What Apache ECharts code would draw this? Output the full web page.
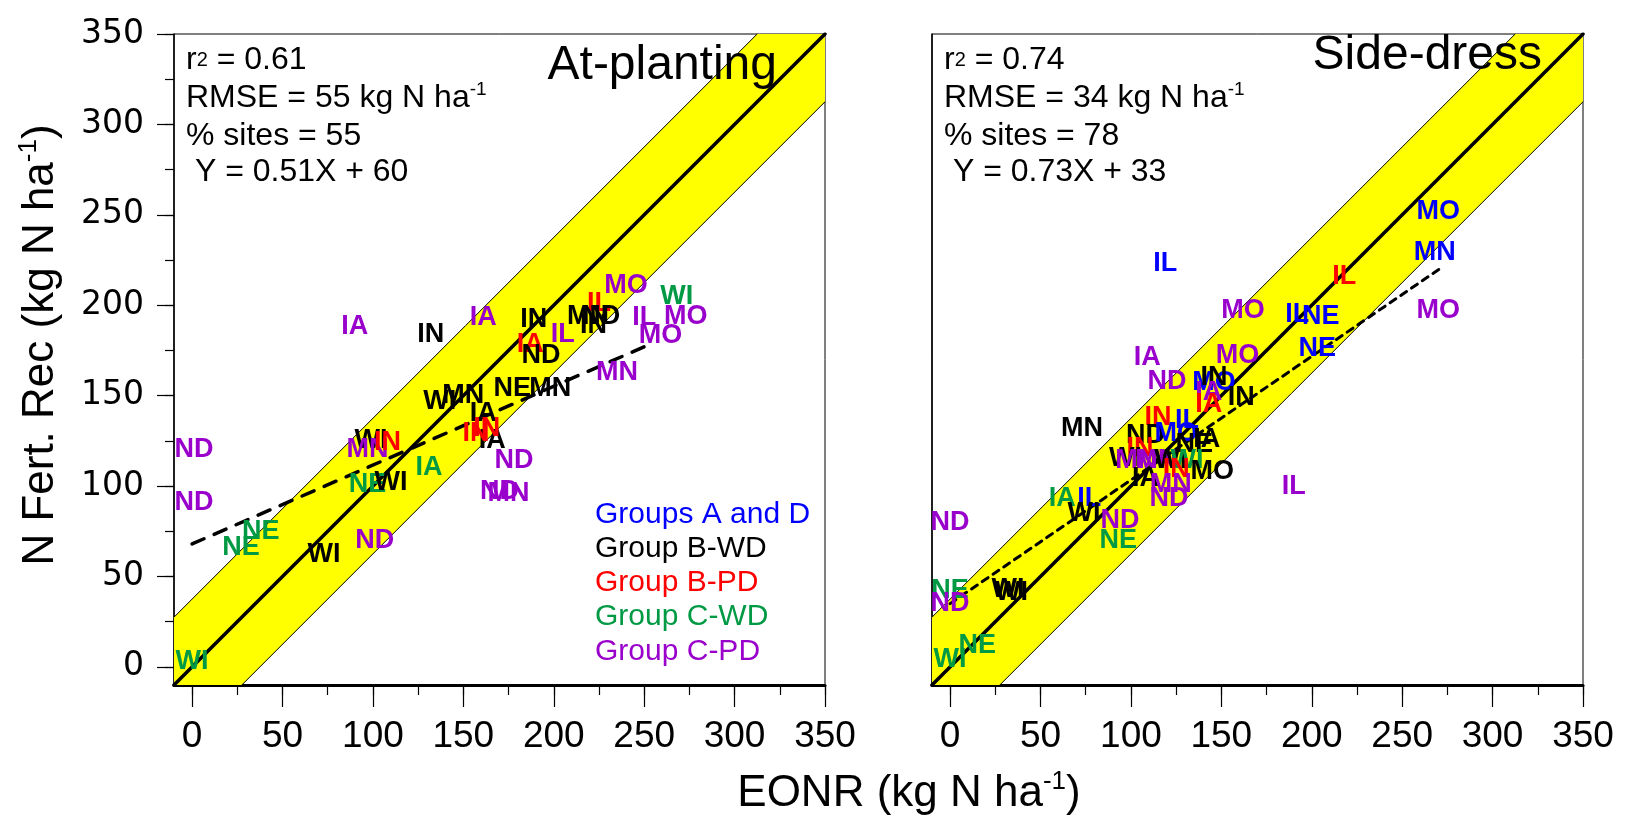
<!DOCTYPE html>
<html><head><meta charset="utf-8">
<script src="https://cdn.jsdelivr.net/npm/echarts@6/dist/echarts.min.js"></script>
<style>html,body{margin:0;padding:0;background:#fff}#c{width:1627px;height:816px}</style>
</head><body><div id="c"></div>
<script>
// ---- data ----
const groupNames = ['Groups A and D', 'Group B-WD', 'Group B-PD', 'Group C-WD', 'Group C-PD'];
const groupColors = ['#0000FF', '#000000', '#FF0000', '#009944', '#9900CC'];
const axisMin = -10, axisMax = 350;
const majorTicks = [0, 50, 100, 150, 200, 250, 300, 350];
const minorTicks = [0, 25, 50, 75, 100, 125, 150, 175, 200, 225, 250, 275, 300, 325, 350];
const bandHalfWidth = 37.5;

// [EONR, N Fert. Rec, state, group index]
const plantingPoints = [
  [90, 188, 'IA', 4], [132, 184, 'IN', 1], [161, 193, 'IA', 4], [189, 192, 'IN', 1],
  [187, 178, 'IA', 2], [193, 172, 'ND', 1], [205, 184, 'IL', 4], [225, 201, 'IL', 2],
  [240, 211, 'MO', 4], [219, 194, 'MN', 1], [226, 194, 'ND', 1], [222, 189, 'IN', 1],
  [268, 205, 'WI', 3], [250, 193, 'IL', 4], [273, 194, 'MO', 4], [259, 183, 'MO', 4],
  [235, 163, 'MN', 4], [177, 154, 'NE', 1], [198, 154, 'MN', 1], [150, 150, 'MN', 1],
  [137, 147, 'WI', 1], [161, 140, 'IA', 1], [166, 125, 'IA', 1], [163, 132, 'IN', 2],
  [157, 129, 'IN', 2], [99, 125, 'WI', 1], [97, 120, 'MN', 4], [108, 124, 'IN', 2],
  [131, 110, 'IA', 3], [97, 101, 'NE', 3], [110, 102, 'WI', 1], [178, 114, 'ND', 4],
  [170, 97, 'ND', 4], [175, 96, 'MN', 4], [1, 120, 'ND', 4], [1, 91, 'ND', 4],
  [38, 75, 'NE', 3], [27, 66, 'NE', 3], [73, 62, 'WI', 1], [101, 70, 'ND', 4],
  [0, 3, 'WI', 3]
];
const sideDressPoints = [
  [270, 252, 'MO', 0], [268, 229, 'MN', 0], [270, 197, 'MO', 4], [119, 223, 'IL', 0],
  [218, 216, 'IL', 2], [162, 197, 'MO', 4], [192, 195, 'IL', 0], [205, 194, 'NE', 0],
  [203, 176, 'NE', 0], [109, 171, 'IA', 4], [159, 172, 'MO', 4], [120, 158, 'ND', 4],
  [146, 157, 'MO', 0], [146, 160, 'IN', 1], [143, 152, 'IA', 4], [143, 145, 'IA', 2],
  [161, 149, 'IN', 1], [73, 132, 'MN', 1], [115, 138, 'IN', 2], [131, 136, 'IL', 0],
  [108, 128, 'ND', 1], [125, 129, 'MO', 0], [142, 126, 'IA', 1], [135, 123, 'NE', 1],
  [105, 121, 'IN', 2], [97, 115, 'WI', 1], [103, 114, 'MN', 4], [114, 114, 'MN', 4],
  [122, 114, 'WI', 1], [131, 114, 'WI', 3], [125, 109, 'IN', 2], [145, 108, 'MO', 1],
  [108, 104, 'IA', 1], [122, 101, 'MN', 4], [121, 93, 'ND', 4], [190, 100, 'IL', 4],
  [62, 93, 'IA', 3], [77, 93, 'IL', 0], [74, 85, 'WI', 1], [94, 81, 'ND', 4],
  [93, 70, 'NE', 3], [0, 80, 'ND', 4], [0, 42, 'NE', 3], [0, 35, 'ND', 4],
  [32, 43, 'WI', 1], [34, 41, 'WI', 1], [15, 12, 'NE', 3], [0, 4, 'WI', 3]
];
const plantingFit = [[0, 68], [250, 177]];
const sideDressFit = [[0, 35], [272, 221]];
const plantingStats = ['0.61', '55', '55', '0.51X + 60'];
const sideDressStats = ['0.74', '34', '78', '0.73X + 33'];
const panelTitles = ['At-planting', 'Side-dress'];

// ---- chart ----
const FONT = '"Liberation Sans", Arial, sans-serif';
const chart = echarts.init(document.getElementById('c'), null, {renderer: 'canvas'});

function gridCfg(left) {
  return {left: left, top: 34, width: 651, height: 651, show: true, borderColor: '#000', borderWidth: 1, backgroundColor: 'transparent'};
}
function majorX(gi) {
  return {type: 'value', gridIndex: gi, min: axisMin, max: axisMax, position: 'bottom',
    axisLine: {show: true, onZero: false, lineStyle: {color: '#000', width: 3}},
    axisTick: {show: true, inside: false, length: 22, customValues: majorTicks, lineStyle: {color: '#000', width: 1.2}},
    axisLabel: {show: true, customValues: majorTicks, margin: 33, color: '#000', fontSize: 37, fontFamily: FONT},
    splitLine: {show: false}};
}
function minorX(gi) {
  return {type: 'value', gridIndex: gi, min: axisMin, max: axisMax, position: 'bottom',
    axisLine: {show: false, onZero: false}, axisLabel: {show: false}, splitLine: {show: false},
    axisTick: {show: true, length: 10, customValues: minorTicks, lineStyle: {color: '#000', width: 1.2}}};
}
const option = {
  animation: false,
  backgroundColor: '#fff',
  grid: [gridCfg(174), gridCfg(932)],
  xAxis: [majorX(0), minorX(0), majorX(1), minorX(1)],
  yAxis: [
    {type: 'value', gridIndex: 0, min: axisMin, max: axisMax, position: 'left',
      axisLine: {show: true, onZero: false, lineStyle: {color: '#000', width: 1.5}},
      axisTick: {show: true, length: 17, customValues: majorTicks, lineStyle: {color: '#000', width: 1.2}},
      axisLabel: {show: true, customValues: majorTicks, margin: 30, color: '#000', fontSize: 33, fontFamily: '"DejaVu Sans", ' + FONT},
      splitLine: {show: false}},
    {type: 'value', gridIndex: 0, min: axisMin, max: axisMax, position: 'left',
      axisLine: {show: false, onZero: false}, axisLabel: {show: false}, splitLine: {show: false},
      axisTick: {show: true, length: 9, customValues: minorTicks, lineStyle: {color: '#000', width: 1.2}}},
    {type: 'value', gridIndex: 1, min: axisMin, max: axisMax, position: 'left',
      axisLine: {show: true, onZero: false, lineStyle: {color: '#000', width: 1.5}},
      axisTick: {show: false}, axisLabel: {show: false}, splitLine: {show: false}}
  ],
  series: [],
  graphic: []
};

function addPanel(xi, yi, points, fit) {
  const d = bandHalfWidth, lo = axisMin, hi = axisMax;
  option.series.push({
    type: 'custom', xAxisIndex: xi, yAxisIndex: yi, z: 1, silent: true,
    data: [[lo, lo]],
    renderItem: function (params, api) {
      const pts = [[lo, lo + d], [hi - d, hi], [hi, hi], [hi, hi - d], [lo + d, lo], [lo, lo]].map(v => api.coord(v));
      return {type: 'polygon', shape: {points: pts}, style: {fill: '#FFFF00', stroke: 'none'}};
    }
  });
  const line = (data, w, type, z) => ({
    type: 'line', xAxisIndex: xi, yAxisIndex: yi, data: data, symbol: 'none', silent: true, z: z,
    lineStyle: {color: '#000', width: w, type: type, cap: 'round'}
  });
  option.series.push(line([[lo, lo + d], [hi - d, hi]], 1, 'solid', 2));
  option.series.push(line([[lo + d, lo], [hi, hi - d]], 1, 'solid', 2));
  option.series.push(line([[lo, lo], [hi, hi]], 3.5, 'solid', 3));
  option.series.push(line(fit, xi === 0 ? 3.5 : 3, xi === 0 ? [13, 11] : [7, 6], 3));
  option.series.push({
    type: 'custom', xAxisIndex: xi, yAxisIndex: yi, z: 5, silent: true,
    data: points.map(p => [p[0], p[1], p[3]]),
    renderItem: function (params, api) {
      const p = api.coord([api.value(0), api.value(1)]);
      const item = points[params.dataIndex];
      return {type: 'text', x: p[0], y: p[1],
        style: {text: item[2], fill: groupColors[item[3]], font: 'bold 27px ' + FONT, align: 'center', verticalAlign: 'middle'}};
    }
  });
}
addPanel(0, 0, plantingPoints, plantingFit);
addPanel(2, 2, sideDressPoints, sideDressFit);

const rich = {
  n: {fontSize: 32, fontFamily: FONT, color: '#000', lineHeight: 36},
  s: {fontSize: 19, fontFamily: FONT, color: '#000', verticalAlign: 'top', lineHeight: 36},
  r2: {fontSize: 20, fontFamily: FONT, color: '#000', lineHeight: 36}
};
function addStats(x, stats) {
  const lines = [
    ['{n|r}{r2|2}{n| = ' + stats[0] + '}', 60],
    ['{n|RMSE = ' + stats[1] + ' kg N ha}{s|-1}', 98],
    ['{n|% sites = ' + stats[2] + '}', 136],
    ['{n| Y = ' + stats[3] + '}', 172]
  ];
  lines.forEach(l => option.graphic.push({type: 'text', x: x, y: l[1], z: 10,
    style: {text: l[0], rich: rich, align: 'left', verticalAlign: 'middle'}}));
}
addStats(186, plantingStats);
addStats(944, sideDressStats);

option.graphic.push({type: 'text', x: 777, y: 66, z: 10,
  style: {text: panelTitles[0], font: '48px ' + FONT, fill: '#000', align: 'right', verticalAlign: 'middle'}});
option.graphic.push({type: 'text', x: 1542, y: 56, z: 10,
  style: {text: panelTitles[1], font: '48px ' + FONT, fill: '#000', align: 'right', verticalAlign: 'middle'}});

const legendY = [515, 549, 583, 617, 652];
groupNames.forEach((g, i) => option.graphic.push({type: 'text', x: 595, y: legendY[i], z: 10,
  style: {text: g, font: '30px ' + FONT, fill: groupColors[i], align: 'left', verticalAlign: 'middle'}}));

const titleRich = {
  t: {fontSize: 44, fontFamily: FONT, color: '#000', lineHeight: 50},
  u: {fontSize: 26, fontFamily: FONT, color: '#000', verticalAlign: 'top', lineHeight: 50}
};
option.graphic.push({type: 'text', x: 909, y: 794, z: 10,
  style: {text: '{t|EONR (kg N ha}{u|-1}{t|)}', rich: titleRich, align: 'center', verticalAlign: 'middle'}});
option.graphic.push({type: 'text', x: 41, y: 345, rotation: Math.PI / 2, z: 10,
  style: {text: '{t|N Fert. Rec (kg N ha}{u|-1}{t|)}', rich: {
    t: {fontSize: 44, fontFamily: FONT, color: '#000', lineHeight: 50},
    u: {fontSize: 26, fontFamily: FONT, color: '#000', verticalAlign: 'top', lineHeight: 50}
  }, align: 'center', verticalAlign: 'middle'}});

chart.setOption(option);
</script></body></html>
